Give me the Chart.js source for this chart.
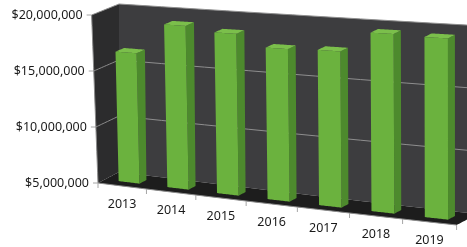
<!DOCTYPE html>
<html>
<head>
<meta charset="utf-8">
<script src="https://cdn.jsdelivr.net/npm/chart.js@4.4.0/dist/chart.umd.min.js"></script>
<style>
  body { margin: 0; background: #fff; }
  canvas { display: block; }
</style>
</head>
<body>
<canvas id="chart" width="467" height="247"></canvas>
<script>
// data
var years = ["2013", "2014", "2015", "2016", "2017", "2018", "2019"];
var amounts = [16500000, 19200000, 18800000, 17800000, 17900000, 19600000, 19500000];
var tickValues = [5000000, 10000000, 15000000, 20000000];
var tickLabels = ["$5,000,000", "$10,000,000", "$15,000,000", "$20,000,000"];

// fake 3d view settings
var view = { A: 0.0002, K: 0.125, C: 0.00036, DX: 21, DY: 11, T: 0.038, WL: 330 };
var font = "12.5px 'Noto Sans'";

// flat chart point (u, v) at depth d (0 front, 1 back wall) -> screen
function proj(ca, u, v, d) {
    var w = u - ca.left, h = ca.bottom - v;
    var lean = view.T * (1 - d) * (1 - w / view.WL) * h;
    return [ca.left + w + view.A * w * w + view.DX * d - lean,
            ca.bottom - view.DY * d + view.K * w - h * (1 + view.C * w)];
}

function tracePath(ctx, ca, pts, close) {
    ctx.beginPath();
    for (var i = 0; i < pts.length - (close ? 0 : 1); i++) {
        var a = pts[i], b = pts[(i + 1) % pts.length];
        for (var s = 0; s <= 16; s++) {
            var t = s / 16;
            var p = proj(ca, a[0] + (b[0] - a[0]) * t, a[1] + (b[1] - a[1]) * t, a[2] + (b[2] - a[2]) * t);
            if (i === 0 && s === 0) ctx.moveTo(p[0], p[1]); else ctx.lineTo(p[0], p[1]);
        }
    }
    if (close) ctx.closePath();
}

function fillFace(ctx, ca, pts, color) {
    tracePath(ctx, ca, pts, true);
    ctx.fillStyle = color;
    ctx.fill();
}

function strokeLine(ctx, ca, pts, color) {
    tracePath(ctx, ca, pts, false);
    ctx.strokeStyle = color;
    ctx.lineWidth = 1;
    ctx.stroke();
}

var box3d = {
    id: "box3d",
    beforeDatasetsDraw: function(chart) {
        var ctx = chart.ctx, ca = chart.chartArea;
        var xs = chart.scales.x, ys = chart.scales.y;
        var L = ca.left, R = ca.right, T = ca.top, B = ca.bottom;
        ctx.save();

        // walls and floor
        fillFace(ctx, ca, [[L, T, 1], [R, T, 1], [R, B, 1], [L, B, 1]], "#3d3d3f");
        fillFace(ctx, ca, [[L, T, 0], [L, T, 1], [L, B, 1], [L, B, 0]], "#2c2c2d");
        fillFace(ctx, ca, [[L, B, 0], [R, B, 0], [R, B, 1], [L, B, 1]], "#1d1d1d");

        // gridlines, y ticks and labels
        ctx.font = font;
        ctx.fillStyle = "#1a1a1a";
        ctx.textAlign = "right";
        ctx.textBaseline = "middle";
        tickValues.forEach(function(val, i) {
            var v = ys.getPixelForValue(val);
            if (val > tickValues[0]) strokeLine(ctx, ca, [[L, v, 0], [L, v, 1], [R, v, 1]], "#8e8e8e");
            var p = proj(ca, L, v, 0);
            ctx.strokeStyle = "#a6a6a6";
            ctx.beginPath();
            ctx.moveTo(p[0] - 5, p[1]);
            ctx.lineTo(p[0], p[1]);
            ctx.stroke();
            ctx.fillText(tickLabels[i], p[0] - 9, p[1]);
        });
        strokeLine(ctx, ca, [[L, T, 0], [L, B, 0], [R, B, 0]], "#8a8a8a");

        // category ticks on the front edge
        ctx.strokeStyle = "#a6a6a6";
        for (var i = 0; i <= years.length; i++) {
            var p = proj(ca, xs.getPixelForValue(i - 0.5), B, 0);
            ctx.beginPath();
            ctx.moveTo(p[0], p[1]);
            ctx.lineTo(p[0], p[1] + 5);
            ctx.stroke();
        }

        // bars as boxes, standing on the floor
        var d0 = 0.33, d1 = 0.66;
        chart.getDatasetMeta(0).data.forEach(function(bar) {
            var ul = bar.x - bar.width / 2, ur = bar.x + bar.width / 2;
            var base = Math.min(bar.base, B);
            fillFace(ctx, ca, [[ur, bar.y, d0], [ur, bar.y, d1], [ur, base, d1], [ur, base, d0]], "#4d8a2d");
            fillFace(ctx, ca, [[ul, bar.y, d0], [ur, bar.y, d0], [ur, bar.y, d1], [ul, bar.y, d1]], "#7bbf4b");
            fillFace(ctx, ca, [[ul, bar.y, d0], [ur, bar.y, d0], [ur, base, d0], [ul, base, d0]], "#6bb23e");
        });

        // year labels under the front edge
        ctx.fillStyle = "#1a1a1a";
        ctx.textAlign = "center";
        years.forEach(function(yr, i) {
            var p = proj(ca, xs.getPixelForValue(i), B, 0);
            ctx.fillText(yr, p[0], p[1] + 18.5);
        });

        ctx.restore();
        return false;
    }
};

new Chart(document.getElementById("chart"), {
    type: "bar",
    data: {
        labels: years,
        datasets: [{ data: amounts, backgroundColor: "#6bb23e", categoryPercentage: 1, barPercentage: 0.43 }]
    },
    options: {
        responsive: false,
        animation: false,
        devicePixelRatio: 1,
        layout: { padding: { left: 98, right: 33, top: 15, bottom: 64 } },
        plugins: { legend: { display: false }, tooltip: { enabled: false } },
        scales: {
            x: { display: false },
            y: { display: false, min: 5000000, max: 20000000 }
        }
    },
    plugins: [box3d]
});
</script>
</body>
</html>
